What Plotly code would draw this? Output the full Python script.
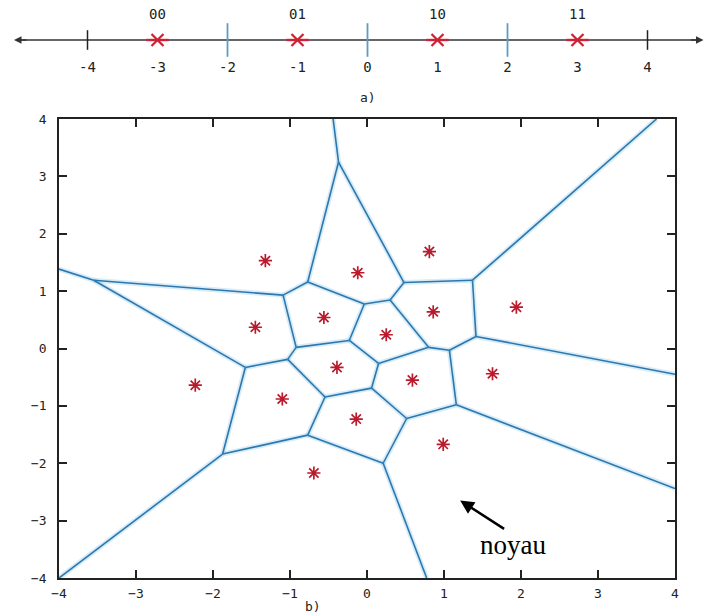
import plotly.graph_objects as go

# ---------- a) number line data ----------
line_ticks = [-4, -3, -2, -1, 0, 1, 2, 3, 4]
line_tick_labels = ["-4", "-3", "-2", "-1", "0", "1", "2", "3", "4"]
boundary_ticks = [-2, 0, 2]
end_ticks = [-4, 4]
symbols_x = [-3, -1, 1, 3]
symbol_codes = ["00", "01", "10", "11"]

# ---------- b) Voronoi data ----------
pts_x = [-1.32, -0.12, 0.81, 0.86, 1.94, -1.45, -0.56, 0.25, -0.39, 0.59, 1.63, -2.23, -1.10, -0.14, 0.99, -0.69]
pts_y = [1.53, 1.32, 1.69, 0.64, 0.72, 0.37, 0.54, 0.24, -0.33, -0.55, -0.44, -0.64, -0.88, -1.23, -1.67, -2.17]

# Voronoi vertices
vert = {
    "top1": (-0.44, 4.0), "V1": (-0.37, 3.25), "A": (-0.77, 1.16), "B": (-1.09, 0.93),
    "V4": (-3.55, 1.19), "left": (-4.0, 1.385), "C": (-0.035, 0.775), "D": (0.30, 0.845),
    "E": (0.48, 1.15), "F": (1.37, 1.19), "topR": (3.76, 4.0), "G": (1.415, 0.21),
    "right1": (4.0, -0.45), "H": (1.07, -0.03), "I": (0.80, 0.02), "J": (0.15, -0.26),
    "K": (-0.23, 0.14), "L": (-0.92, 0.02), "M": (-1.03, -0.19), "N": (-1.58, -0.33),
    "O": (-0.545, -0.845), "P": (0.06, -0.69), "Q": (0.515, -1.22), "R": (1.16, -0.98),
    "right2": (4.0, -2.44), "S": (-0.77, -1.51), "T": (-1.875, -1.84), "U": (0.21, -2.0),
    "bl": (-4.0, -4.0), "bot": (0.775, -4.0),
}
edges = [
    ("top1", "V1"), ("V1", "A"), ("V1", "E"), ("A", "B"), ("A", "C"), ("B", "V4"),
    ("V4", "left"), ("V4", "N"), ("B", "L"), ("C", "D"), ("C", "K"), ("D", "E"),
    ("D", "I"), ("E", "F"), ("F", "topR"), ("F", "G"), ("G", "right1"), ("G", "H"),
    ("H", "I"), ("H", "R"), ("I", "J"), ("J", "K"), ("J", "P"), ("K", "L"),
    ("L", "M"), ("M", "N"), ("M", "O"), ("O", "P"), ("O", "S"), ("P", "Q"),
    ("Q", "R"), ("Q", "U"), ("R", "right2"), ("S", "U"), ("S", "T"), ("T", "N"),
    ("T", "bl"), ("U", "bot"),
]
ticks_b = [-4, -3, -2, -1, 0, 1, 2, 3, 4]

# annotation "noyau"
noyau_tip = (1.21, -2.65)
noyau_tail = (1.80, -3.16)
noyau_text_pos = (1.90, -3.42)

MONO = "DejaVu Sans Mono"
RED = "#bb1a2c"
BLUE = "#2c78ae"

ex, ey = [], []
for a, b in edges:
    ex += [vert[a][0], vert[b][0], None]
    ey += [vert[a][1], vert[b][1], None]

fig = go.Figure()

# glow under the edges
fig.add_trace(go.Scatter(x=ex, y=ey, mode="lines", line=dict(color="rgba(140,200,235,0.35)", width=5),
                         hoverinfo="skip", showlegend=False, xaxis="x", yaxis="y"))
fig.add_trace(go.Scatter(x=ex, y=ey, mode="lines", line=dict(color=BLUE, width=1.6),
                         showlegend=False, xaxis="x", yaxis="y"))
fig.add_trace(go.Scatter(x=pts_x, y=pts_y, mode="markers",
                         marker=dict(symbol="asterisk-open", size=11, color=RED, line=dict(color=RED, width=1.7)),
                         showlegend=False, xaxis="x", yaxis="y"))

# ---------- number line ----------
fig.add_trace(go.Scatter(x=[-5.0, 4.75], y=[0, 0], mode="lines", line=dict(color="#333333", width=1.5),
                         showlegend=False, xaxis="x2", yaxis="y2"))
fig.add_trace(go.Scatter(x=end_ticks, y=[0] * len(end_ticks), mode="markers",
                         marker=dict(symbol="line-ns-open", size=14, color="#222222",
                                     line=dict(color="#222222", width=1.5)),
                         showlegend=False, xaxis="x2", yaxis="y2"))
fig.add_trace(go.Scatter(x=boundary_ticks, y=[0] * len(boundary_ticks), mode="markers",
                         marker=dict(symbol="line-ns-open", size=24, color="#5d9cc4",
                                     line=dict(color="#5d9cc4", width=1.8)),
                         showlegend=False, xaxis="x2", yaxis="y2"))
fig.add_trace(go.Scatter(x=symbols_x, y=[0] * len(symbols_x), mode="markers",
                         marker=dict(symbol="x-thin-open", size=12, color="#cc2233",
                                     line=dict(color="#cc2233", width=2.2)),
                         showlegend=False, xaxis="x2", yaxis="y2"))
fig.add_trace(go.Scatter(x=symbols_x, y=[0] * len(symbols_x), mode="markers",
                         marker=dict(symbol="line-ew-open", size=16, color="#cc2233",
                                     line=dict(color="#cc2233", width=2.4)),
                         showlegend=False, xaxis="x2", yaxis="y2"))
fig.add_trace(go.Scatter(x=line_ticks, y=[-2.8] * len(line_ticks), mode="text", text=line_tick_labels,
                         textfont=dict(family=MONO, size=14, color="#222222"),
                         showlegend=False, xaxis="x2", yaxis="y2"))
fig.add_trace(go.Scatter(x=symbols_x, y=[2.5] * len(symbols_x), mode="text", text=symbol_codes,
                         textfont=dict(family=MONO, size=14, color="#222222"),
                         showlegend=False, xaxis="x2", yaxis="y2"))

annotations = [
    dict(x=-5.05, y=0, xref="x2", yref="y2", ax=14, ay=0, text="", showarrow=True,
         arrowhead=2, arrowsize=1, arrowwidth=1.5, arrowcolor="#333333"),
    dict(x=4.8, y=0, xref="x2", yref="y2", ax=-14, ay=0, text="", showarrow=True,
         arrowhead=2, arrowsize=1, arrowwidth=1.5, arrowcolor="#333333"),
    dict(x=0, y=-5.7, xref="x2", yref="y2", text="a)", showarrow=False,
         font=dict(family=MONO, size=13, color="#222222")),
    dict(x=-0.70, y=0.0, xref="x", yref="paper", yanchor="bottom", text="b)", showarrow=False,
         font=dict(family=MONO, size=13, color="#222222")),
    dict(x=noyau_tip[0], y=noyau_tip[1], xref="x", yref="y", ax=noyau_tail[0], ay=noyau_tail[1],
         axref="x", ayref="y", text="", showarrow=True, arrowhead=2, arrowsize=1.1,
         arrowwidth=2.5, arrowcolor="black"),
    dict(x=noyau_text_pos[0], y=noyau_text_pos[1], xref="x", yref="y", text="noyau", showarrow=False,
         font=dict(family="Liberation Serif", size=27, color="black")),
]

axis_common = dict(range=[-4, 4], tickvals=ticks_b, ticks="inside", ticklen=8, tickwidth=1.5,
                   tickcolor="#222222", showline=True, linecolor="#222222", linewidth=1.5,
                   mirror="ticks", showgrid=False, zeroline=False, automargin=False,
                   tickfont=dict(family=MONO, size=13, color="#222222"))

fig.update_layout(
    width=707, height=616,
    margin=dict(l=0, r=0, t=0, b=0, autoexpand=False),
    paper_bgcolor="white", plot_bgcolor="white",
    showlegend=False,
    xaxis=dict(domain=[59 / 707, 675 / 707], anchor="y", ticklabelstandoff=3, **axis_common),
    yaxis=dict(domain=[38 / 616, 497 / 616], anchor="x", ticklabelstandoff=8, **axis_common),
    xaxis2=dict(domain=[0, 1], range=[-5.25, 4.85], anchor="y2", visible=False, automargin=False),
    yaxis2=dict(domain=[506 / 616, 1], range=[-7, 4], anchor="x2", visible=False, automargin=False),
    annotations=annotations,
)

fig.write_html("out.html", config={"displayModeBar": False},
               post_script="document.body.style.margin='0';document.body.style.padding='0';"
                           "document.body.style.overflow='hidden';")
